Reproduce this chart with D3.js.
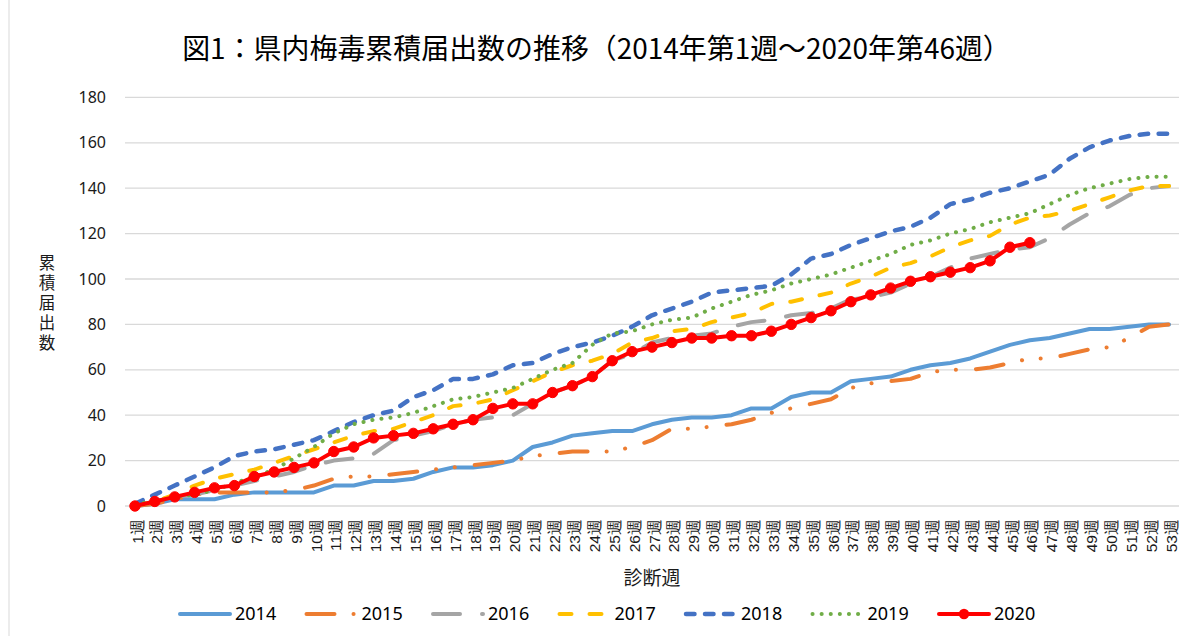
<!DOCTYPE html>
<html><head><meta charset="utf-8">
<script src="https://cdn.jsdelivr.net/npm/d3@7"></script>
<style>
html,body{margin:0;padding:0;background:#fff;}
svg{display:block;font-family:"Noto Sans CJK JP","Noto Sans",sans-serif;}
</style></head>
<body>
<svg id="chart" width="1188" height="636"></svg>
<script>
const titleText = "図1：県内梅毒累積届出数の推移（2014年第1週～2020年第46週）";
const yAxisTitle = "累積届出数";
const xAxisTitle = "診断週";
const weeks = d3.range(1, 54).map(d => d + "週");
const yTicks = [0, 20, 40, 60, 80, 100, 120, 140, 160, 180];
const seriesNames = ["2014", "2015", "2016", "2017", "2018", "2019", "2020"];

const v2014 = [0,1,3,3,3,5,6,6,6,6, 9,9,11,11,12,15,17,17,18,20, 26,28,31,32,33,33,36,38,39,39, 40,43,43,48,50,50,55,56,57,60, 62,63,65,68,71,73,74,76,78,78, 79,80,80];
const v2015 = [0,1,3,5,6,6,6,6,7,9, 12,13,13,14,15,16,17,18,19,20, 22,23,24,24,24,26,29,34,34,35, 36,38,41,43,45,47,52,54,55,56, 59,60,60,61,63,65,65,67,69,70, 74,79,80];
const v2016 = [0,2,4,5,7,9,11,13,15,18, 20,21,23,29,31,33,36,38,39,40, 45,50,53,57,64,67,72,74,75,76, 79,81,82,84,85,87,91,92,94,98, 101,105,109,111,113,114,118,124,129,132, 137,140,141];
const v2017 = [0,2,5,9,12,14,16,19,22,25, 28,31,33,34,37,40,44,45,47,51, 55,59,62,64,67,72,74,77,78,81, 83,85,89,90,92,94,98,101,105,107, 110,114,117,119,124,127,128,130,133,136, 139,141,141];
const v2018 = [1,5,9,13,17,22,24,25,27,29, 33,37,40,42,48,51,56,56,58,62, 63,67,70,72,75,79,84,87,90,94, 95,96,97,102,109,111,115,118,121,123, 127,133,135,138,140,143,146,153,158,161, 163,164,164];
const v2019 = [1,2,4,5,7,10,13,16,21,26, 32,36,38,39,41,44,47,48,50,52, 56,60,63,71,76,77,80,82,83,87, 90,93,95,98,100,102,105,108,111,115, 117,120,122,125,127,129,133,137,140,142, 144,145,145];
const v2020 = [0,2,4,6,8,9,13,15,17,19, 24,26,30,31,32,34,36,38,43,45, 45,50,53,57,64,68,70,72,74,74, 75,75,77,80,83,86,90,93,96,99, 101,103,105,108,114,116];

const seriesValues = [v2014, v2015, v2016, v2017, v2018, v2019, v2020];
const styles = [
  {color:"#5B9BD5", width:4,   dash:null},
  {color:"#ED7D31", width:4,   dash:"28,19,0.1,18.7,0.1,20"},
  {color:"#A5A5A5", width:4,   dash:"27,22"},
  {color:"#FFC000", width:4,   dash:"12,18"},
  {color:"#4472C4", width:4.5, dash:"8.5,10.5"},
  {color:"#70AD47", width:4,   dash:"0.1,9"},
  {color:"#FF0000", width:4,   dash:null, marker:true}
];

const svg = d3.select("#chart");
// chart border
svg.append("line").attr("x1",9).attr("x2",9).attr("y1",0).attr("y2",636)
  .attr("stroke","#D9D9D9").attr("stroke-width",1);

const x = d3.scaleBand().domain(weeks).range([125, 1179]).paddingInner(0).paddingOuter(0);
const y = d3.scaleLinear().domain([0, 180]).range([506, 97.4]);
const cx = w => x(w) + x.bandwidth() / 2;

// gridlines
svg.append("g").selectAll("line").data(yTicks).join("line")
  .attr("x1", 125).attr("x2", 1179)
  .attr("y1", d => y(d)).attr("y2", d => y(d))
  .attr("stroke", "#D9D9D9").attr("stroke-width", 1.3);

// y axis labels
const yAxis = d3.axisLeft(y).tickValues(yTicks).tickSize(0).tickPadding(0);
const gy = svg.append("g").attr("transform", "translate(106,0)").call(yAxis);
gy.select(".domain").remove();
gy.selectAll("text").attr("font-size", 16).attr("fill", "#1a1a1a")
  .attr("font-family", "'Noto Sans','Noto Sans CJK JP',sans-serif");

// x axis labels (rotated)
const xAxis = d3.axisBottom(x).tickSize(0).tickPadding(0);
const gx = svg.append("g").attr("transform", "translate(0,506)").call(xAxis);
gx.select(".domain").remove();
gx.selectAll(".tick text")
  .attr("font-size", 15.5).attr("fill", "#1a1a1a")
  .attr("text-anchor", "end")
  .attr("transform", "translate(2,13) rotate(-90)")
  .attr("x", 0).attr("y", 0).attr("dy", "0.36em");

// lines
const line = d3.line().x((d, i) => cx(weeks[i])).y(d => y(d));
seriesValues.forEach((vals, k) => {
  const st = styles[k];
  const p = svg.append("path").datum(vals).attr("d", line)
    .attr("fill", "none").attr("stroke", st.color).attr("stroke-width", st.width)
    .attr("stroke-linecap", "round").attr("stroke-linejoin", "round");
  if (st.dash) p.attr("stroke-dasharray", st.dash);
  if (st.marker) {
    svg.append("g").selectAll("circle").data(vals).join("circle")
      .attr("cx", (d, i) => cx(weeks[i])).attr("cy", d => y(d))
      .attr("r", 5.2).attr("fill", st.color).attr("stroke", st.color).attr("stroke-width", 1);
  }
});

// title
const t = svg.append("text").attr("x", 596.5).attr("y", 59).attr("text-anchor", "middle")
  .attr("font-size", 26).attr("fill", "#000").text(titleText);
const tw = t.node().getComputedTextLength();
t.attr("font-size", 26 * 829 / tw);

// y axis title (vertical writing)
svg.append("text")
  .attr("x", 47).attr("y", 304)
  .attr("writing-mode", "tb")
  .style("writing-mode", "vertical-rl")
  .attr("text-anchor", "middle")
  .attr("letter-spacing", 3.5)
  .attr("font-size", 16.5).attr("fill", "#1a1a1a").text(yAxisTitle);

// x axis title
svg.append("text").attr("x", 652).attr("y", 578).attr("dy", "0.36em")
  .attr("text-anchor", "middle").attr("font-size", 19).attr("fill", "#1a1a1a").text(xAxisTitle);

// legend
const lg = svg.append("g");
seriesNames.forEach((name, k) => {
  const st = styles[k];
  const x0 = 178 + k * 126.5;
  const ly = 614;
  const l = lg.append("line").attr("x1", x0 + 2).attr("x2", x0 + 52).attr("y1", ly).attr("y2", ly)
    .attr("stroke", st.color).attr("stroke-width", st.width).attr("stroke-linecap", "round");
  if (st.dash) l.attr("stroke-dasharray", st.dash);
  if (st.marker) lg.append("circle").attr("cx", x0 + 27).attr("cy", ly).attr("r", 5.2).attr("fill", st.color);
  lg.append("text").attr("x", x0 + 57).attr("y", ly).attr("dy", "0.36em")
    .attr("font-size", 18).attr("fill", "#000")
    .attr("font-family", "'Noto Sans','Noto Sans CJK JP',sans-serif").text(name);
});
</script>
</body></html>
